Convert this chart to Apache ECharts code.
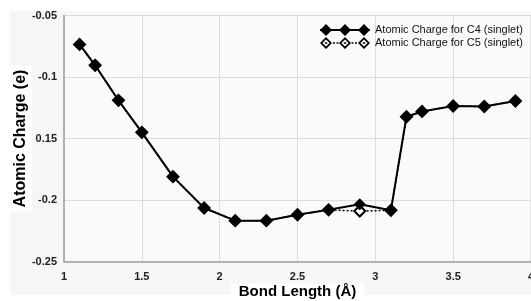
<!DOCTYPE html>
<html>
<head>
<meta charset="utf-8">
<script src="https://cdn.jsdelivr.net/npm/echarts@6/dist/echarts.min.js"></script>
<style>
  html, body { margin: 0; padding: 0; background: #ffffff; }
  #chart { width: 531px; height: 301px; }
</style>
</head>
<body>
<div id="chart"></div>
<script>
// values
const bondLength = [1.1, 1.2, 1.35, 1.5, 1.7, 1.9, 2.1, 2.3, 2.5, 2.7, 2.9, 3.1, 3.2, 3.3, 3.5, 3.7, 3.9];
const chargeC4 = [-0.0735, -0.0905, -0.119, -0.145, -0.181, -0.2065, -0.2168, -0.2168, -0.212, -0.208, -0.2035, -0.2084, -0.1323, -0.128, -0.1236, -0.124, -0.1195];
const chargeC5 = [-0.0735, -0.0905, -0.119, -0.145, -0.181, -0.2065, -0.2168, -0.2168, -0.212, -0.208, -0.209, -0.2084, -0.1323, -0.128, -0.1236, -0.124, -0.1195];
const yTickLabels = { '-0.05': '-0.05', '-0.1': '-0.1', '-0.15': '0.15', '-0.2': '-0.2', '-0.25': '-0.25' };

const seriesNames = ['Atomic Charge for C4 (singlet)', 'Atomic Charge for C5 (singlet)'];

// legend icons: line with three diamonds (50 x 12 box)
function filledDiamond(cx) {
    return 'M' + (cx - 6) + ' 6L' + cx + ' 0L' + (cx + 6) + ' 6L' + cx + ' 12Z';
}
function hollowDiamond(cx) {
    return filledDiamond(cx) +
        'M' + (cx - 3.6) + ' 6L' + cx + ' 9.6L' + (cx + 3.6) + ' 6L' + cx + ' 2.4Z' +
        'M' + (cx - 1.2) + ' 5.2L' + (cx + 1.2) + ' 5.2L' + (cx + 1.2) + ' 6.8L' + (cx - 1.2) + ' 6.8Z';
}
const iconFilled = 'path://M0 5L50 5L50 7L0 7Z' + filledDiamond(6) + filledDiamond(25) + filledDiamond(44);
const iconHollow = 'path://' + hollowDiamond(6) + hollowDiamond(25) + hollowDiamond(44) +
    'M13 5.3L15 5.3L15 6.7L13 6.7Z M16.5 5.3L18.5 5.3L18.5 6.7L16.5 6.7Z' +
    'M31.5 5.3L33.5 5.3L33.5 6.7L31.5 6.7Z M35 5.3L37 5.3L37 6.7L35 6.7Z';

const chart = echarts.init(document.getElementById('chart'));

const option = {
    backgroundColor: '#ffffff',
    animation: false,
    textStyle: { fontFamily: 'Liberation Sans, Arial, sans-serif' },
    graphic: [
        {
            type: 'rect',
            z: -10,
            silent: true,
            shape: { x: 10, y: 11, width: 521, height: 284 },
            style: { fill: '#f6f6f6' }
        }
    ],
    grid: {
        left: 64,
        right: 0,
        top: 15.5,
        bottom: 39.5,
        outerBoundsMode: 'none',
        containLabel: false,
        show: true,
        backgroundColor: '#fafafa',
        borderColor: '#cfcfcf',
        borderWidth: 1
    },
    legend: {
        orient: 'vertical',
        left: 320,
        top: 24,
        padding: 0,
        itemWidth: 50,
        itemHeight: 12,
        itemGap: 1,
        symbolKeepAspect: false,
        textStyle: { color: '#111', fontSize: 11, padding: [0, 0, 0, 0] },
        data: [
            { name: seriesNames[0], icon: iconFilled, itemStyle: { color: '#000', borderWidth: 0 } },
            { name: seriesNames[1], icon: iconHollow, itemStyle: { color: '#000', borderWidth: 0 } }
        ]
    },
    xAxis: {
        type: 'value',
        min: 1,
        max: 4,
        interval: 0.5,
        name: 'Bond Length (Å)',
        nameLocation: 'middle',
        nameMoveOverlap: false,
        nameGap: 22,
        nameTextStyle: {
            color: '#000',
            fontSize: 15,
            fontWeight: 'bold',
            backgroundColor: '#fff',
            padding: [1, 8, 1, 8]
        },
        axisLine: { lineStyle: { color: '#a0a0a0', width: 1.5 } },
        axisTick: { show: false },
        axisLabel: { color: '#222', fontSize: 11, fontWeight: 'bold', margin: 10 },
        splitLine: { show: true, lineStyle: { color: '#dcdcdc', width: 1 } }
    },
    yAxis: {
        type: 'value',
        min: -0.25,
        max: -0.05,
        interval: 0.05,
        name: 'Atomic Charge (e)',
        nameLocation: 'middle',
        nameMoveOverlap: false,
        nameGap: 32,
        nameTextStyle: {
            color: '#000',
            fontSize: 16,
            fontWeight: 'bold',
            backgroundColor: '#fff',
            padding: [3, 4, 3, 4]
        },
        axisLine: { show: true, lineStyle: { color: '#a0a0a0', width: 1.5 } },
        axisTick: { show: false },
        axisLabel: {
            color: '#222',
            fontSize: 11,
            fontWeight: 'bold',
            margin: 7,
            formatter: function (v) {
                const key = String(Math.round(v * 100) / 100);
                return yTickLabels[key] !== undefined ? yTickLabels[key] : key;
            }
        },
        splitLine: { show: true, lineStyle: { color: '#dcdcdc', width: 1 } }
    },
    series: [
        {
            name: seriesNames[1],
            type: 'line',
            z: 2,
            data: bondLength.map((x, i) => [x, chargeC5[i]]),
            symbol: 'emptyDiamond',
            symbolSize: 11,
            lineStyle: { color: '#000', width: 1.5, type: [2, 2] },
            itemStyle: { color: '#000', borderColor: '#000', borderWidth: 2 }
        },
        {
            name: seriesNames[0],
            type: 'line',
            z: 3,
            data: bondLength.map((x, i) => [x, chargeC4[i]]),
            symbol: 'diamond',
            symbolSize: 12,
            lineStyle: { color: '#000', width: 2 },
            itemStyle: { color: '#000' }
        }
    ]
};

chart.setOption(option);
</script>
</body>
</html>
